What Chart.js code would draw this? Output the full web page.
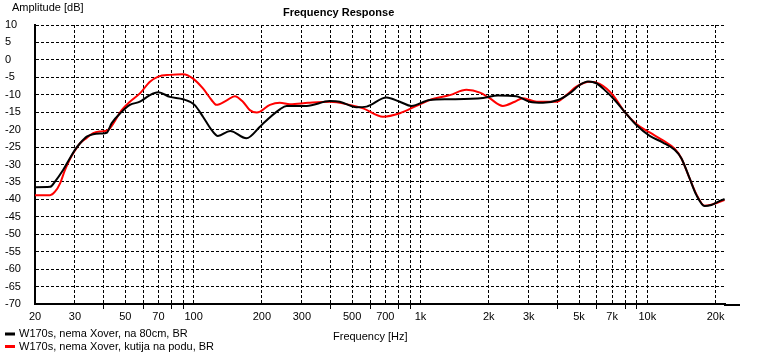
<!DOCTYPE html>
<html><head><meta charset="utf-8">
<script src="https://cdn.jsdelivr.net/npm/chart.js@4"></script>
<style>html,body{margin:0;padding:0;background:#fff}#wrap{width:775px;height:354px;position:relative}</style>
</head><body><div id="wrap"><canvas id="c" width="775" height="354"></canvas></div>
<script>
const FONT = '"Liberation Sans", Arial, sans-serif';

const chartTitle = 'Frequency Response';
const yTitle = 'Amplitude [dB]';
const xTitle = 'Frequency [Hz]';
const seriesNames = ['W170s, nema Xover, na 80cm, BR', 'W170s, nema Xover, kutija na podu, BR'];
const seriesColors = ['#000000', '#ff0000'];

const blackFreq = [20,23.3,24.5,26.6,28.5,30,31.6,33.8,36.1,39.3,41.4,43.5,48.2,52.4,58,64.2,69.9,78.6,90,101,110,120,128,145,171,196,203,240,257,315,399,441,523,579,708,811,913,1099,1347,1888,2198,2649,3031,3470,4040,4548,5034,5476,5964,6600,7180,7944,8948,10242,11722,13196,14124,15366,16444,17888,19144,20470,21900];
const blackDb = [-36.5,-36.4,-34.9,-31.6,-28.2,-25.8,-23.9,-22.0,-21.3,-21.1,-20.9,-18.2,-14.9,-12.9,-12.0,-10.1,-9.3,-10.6,-11.3,-12.9,-16.3,-20.1,-21.8,-20.4,-22.5,-19.2,-18.2,-14.2,-13.2,-13.2,-11.8,-12.0,-13.6,-13.4,-10.8,-12.0,-13.2,-11.5,-11.3,-10.9,-10.2,-10.4,-12.0,-12.3,-11.5,-9.6,-7.2,-6.2,-6.7,-9.1,-11.5,-14.9,-18.7,-21.8,-23.7,-25.8,-28.2,-34.0,-38.7,-41.9,-41.6,-40.7,-39.9];

const redFreq = [20,23.3,24.5,25.8,27.1,28.5,30,31.6,33.8,36.1,39.3,41.4,42.8,48.2,52.4,58,64.2,69.9,78.6,90,99.2,110,120,126,140,152,165,177,190,217,240,266,320,399,488,559,684,811,960,1099,1347,1595,1830,2018,2306,2606,2830,3256,3972,4398,4868,5572,6166,7056,7944,8948,10242,11722,13196,14124,15366,16444,17888,19144,20470,21900];
const redDb = [-38.8,-38.8,-37.8,-35.4,-31.6,-28.5,-26.0,-23.9,-22.4,-21.0,-20.5,-20.3,-19.6,-14.4,-12.0,-9.6,-6.3,-4.8,-4.3,-4.1,-5.3,-8.2,-11.5,-12.9,-11.6,-10.4,-12.0,-14.4,-15.1,-12.9,-12.3,-12.7,-12.3,-12.0,-12.9,-13.9,-16.3,-15.3,-13.2,-11.5,-10.1,-8.6,-9.4,-11.0,-13.2,-12.0,-11.0,-12.0,-12.0,-10.1,-7.7,-6.3,-6.9,-10.1,-14.9,-18.4,-20.8,-23.1,-25.5,-28.2,-34.0,-38.5,-41.8,-41.5,-40.9,-40.2];

const xTickValues = [20,30,40,50,60,70,80,90,100,200,300,400,500,600,700,800,900,1000,2000,3000,4000,5000,6000,7000,8000,9000,10000,20000];
const xTickLabels = {20:'20',30:'30',50:'50',70:'70',100:'100',200:'200',300:'300',500:'500',700:'700',1000:'1k',2000:'2k',3000:'3k',5000:'5k',7000:'7k',10000:'10k',20000:'20k'};
const yMin = -70, yMax = 10, yStep = 5;
const xMin = 20, xMax = 22000;

const toPoints = (f, d) => f.map((v, i) => ({x: v, y: d[i]}));

const textPlugin = {
  id: 'texts',
  afterDraw(chart) {
    const ctx = chart.ctx, a = chart.chartArea;
    ctx.save();
    ctx.strokeStyle = '#000'; ctx.lineWidth = 2;
    ctx.beginPath(); ctx.moveTo(a.right - 1, a.bottom + 1); ctx.lineTo(740, a.bottom + 1); ctx.stroke();
    ctx.fillStyle = '#000';
    ctx.textBaseline = 'middle'; ctx.textAlign = 'left';
    ctx.font = '11px ' + FONT;
    ctx.fillText(yTitle, 12, 8);
    ctx.fillText(xTitle, 333, 337);
    ctx.font = 'bold 11px ' + FONT;
    ctx.fillText(chartTitle, 283, 12.5);
    ctx.font = '11px ' + FONT;
    const ly = [334, 346.5];
    seriesNames.forEach((n, i) => {
      ctx.fillStyle = seriesColors[i];
      ctx.fillRect(5, ly[i] - 1.5, 10, 3);
      ctx.fillStyle = '#000';
      ctx.fillText(n, 19, ly[i]);
    });
    ctx.restore();
  }
};

new Chart(document.getElementById('c'), {
  type: 'line',
  data: {
    datasets: [
      {label: seriesNames[0], data: toPoints(blackFreq, blackDb), borderColor: seriesColors[0]},
      {label: seriesNames[1], data: toPoints(redFreq, redDb), borderColor: seriesColors[1]}
    ]
  },
  options: {
    responsive: false, animation: false, devicePixelRatio: 1,
    layout: {padding: {left: 5, top: 25, right: 50, bottom: 0}},
    plugins: {legend: {display: false}, tooltip: {enabled: false}, title: {display: false}},
    elements: {point: {radius: 0}, line: {borderWidth: 2, cubicInterpolationMode: 'monotone', fill: false}},
    scales: {
      x: {
        type: 'logarithmic', min: xMin, max: xMax,
        afterBuildTicks: s => { s.ticks = xTickValues.map(v => ({value: v})); },
        afterFit: s => { s.height = 50; },
        ticks: {autoSkip: false, maxRotation: 0, minRotation: 0, padding: 1, color: '#000',
          font: {family: FONT, size: 11}, callback: v => xTickLabels[v] || ''},
        grid: {color: '#000', lineWidth: 1, tickLength: 5,
          tickColor: c => (c.tick && xTickLabels[c.tick.value]) ? 'rgba(0,0,0,0)' : '#000'},
        border: {display: true, color: '#000', width: 2, dash: [3, 2]}
      },
      y: {
        min: yMin, max: yMax,
        afterFit: s => { s.width = 30; },
        ticks: {stepSize: yStep, crossAlign: 'far', padding: 0, color: '#000', font: {family: FONT, size: 11}},
        grid: {color: '#000', lineWidth: 1, drawTicks: false},
        border: {display: true, color: '#000', width: 2, dash: [3, 2]}
      }
    }
  },
  plugins: [textPlugin]
});
</script>
</body></html>
